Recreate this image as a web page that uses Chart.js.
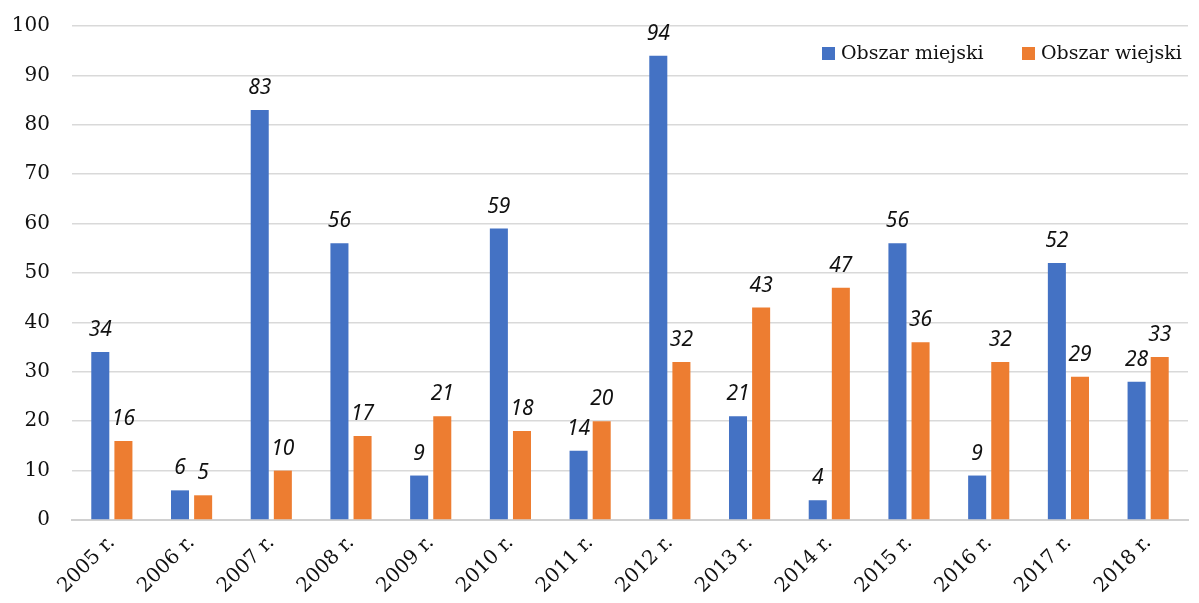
<!DOCTYPE html>
<html>
<head>
<meta charset="utf-8">
<script src="https://cdn.jsdelivr.net/npm/chart.js@4.4.1/dist/chart.umd.min.js"></script>
<style>
  html, body { margin: 0; padding: 0; background: #ffffff; overflow: hidden; }
  #wrap { width: 1199px; height: 611px; position: relative; top: -8px; }
</style>
</head>
<body>
<div id="wrap"><canvas id="barChart"></canvas></div>
<script>
var years = ['2005 r.', '2006 r.', '2007 r.', '2008 r.', '2009 r.', '2010 r.', '2011 r.',
  '2012 r.', '2013 r.', '2014 r.', '2015 r.', '2016 r.', '2017 r.', '2018 r.'];

var miejski = [34, 6, 83, 56, 9, 59, 14, 94, 21, 4, 56, 9, 52, 28];

var wiejski = [16, 5, 10, 17, 21, 18, 20, 32, 43, 47, 36, 32, 29, 33];

var seriesNames = ['Obszar miejski', 'Obszar wiejski'];

var serifFont = "'DejaVu Serif', 'Liberation Serif', serif";

// Draw the italic value above every bar
var valueLabels = {
  id: 'valueLabels',
  afterDatasetsDraw: function (chart) {
    var ctx = chart.ctx;
    ctx.save();
    ctx.font = "italic 21px 'Noto Sans', 'Liberation Sans', sans-serif";
    ctx.fillStyle = '#111111';
    ctx.textAlign = 'center';
    ctx.textBaseline = 'alphabetic';
    chart.data.datasets.forEach(function (ds, i) {
      var meta = chart.getDatasetMeta(i);
      meta.data.forEach(function (bar, j) {
        ctx.fillText(ds.data[j], bar.x, bar.y - 16);
      });
    });
    ctx.restore();
  }
};

// Legend in the top right corner, inside the plot
var cornerLegend = {
  id: 'cornerLegend',
  afterDraw: function (chart) {
    var ctx = chart.ctx;
    var area = chart.chartArea;
    var x = area.right - 366;
    var y = area.top + 27;
    ctx.save();
    ctx.font = '19px ' + serifFont;
    ctx.textBaseline = 'middle';
    ctx.textAlign = 'left';
    chart.data.datasets.forEach(function (ds) {
      ctx.fillStyle = ds.backgroundColor;
      ctx.fillRect(x, y - 6, 13, 13);
      ctx.fillStyle = '#111111';
      ctx.fillText(ds.label, x + 19, y + 1);
      x += 200;
    });
    ctx.restore();
  }
};

new Chart(document.getElementById('barChart'), {
  type: 'bar',
  data: {
    labels: years,
    datasets: [
      {
        label: seriesNames[0],
        data: miejski,
        backgroundColor: '#4472C4',
        barPercentage: 0.78,
        categoryPercentage: 0.58
      },
      {
        label: seriesNames[1],
        data: wiejski,
        backgroundColor: '#ED7D31',
        barPercentage: 0.78,
        categoryPercentage: 0.58
      }
    ]
  },
  options: {
    responsive: true,
    maintainAspectRatio: false,
    animation: false,
    layout: {
      padding: { top: 0, right: 11, left: 0, bottom: 0 }
    },
    plugins: {
      legend: { display: false },
      tooltip: { enabled: false }
    },
    scales: {
      x: {
        grid: { display: false, drawTicks: false },
        border: { color: '#d0d0d0', width: 2 },
        ticks: {
          color: '#111111',
          maxRotation: 45,
          minRotation: 45,
          padding: 11,
          font: { family: serifFont, size: 20 }
        },
        afterFit: function (axis) { axis.height = 83; }
      },
      y: {
        min: 0,
        max: 100,
        ticks: {
          stepSize: 10,
          color: '#111111',
          padding: 22,
          font: { family: serifFont, size: 20 }
        },
        grid: { color: '#d9d9d9', lineWidth: 1.5, drawTicks: false },
        border: { display: false },
        afterFit: function (axis) { axis.width = 72; }
      }
    }
  },
  plugins: [valueLabels, cornerLegend]
});
</script>
</body>
</html>
